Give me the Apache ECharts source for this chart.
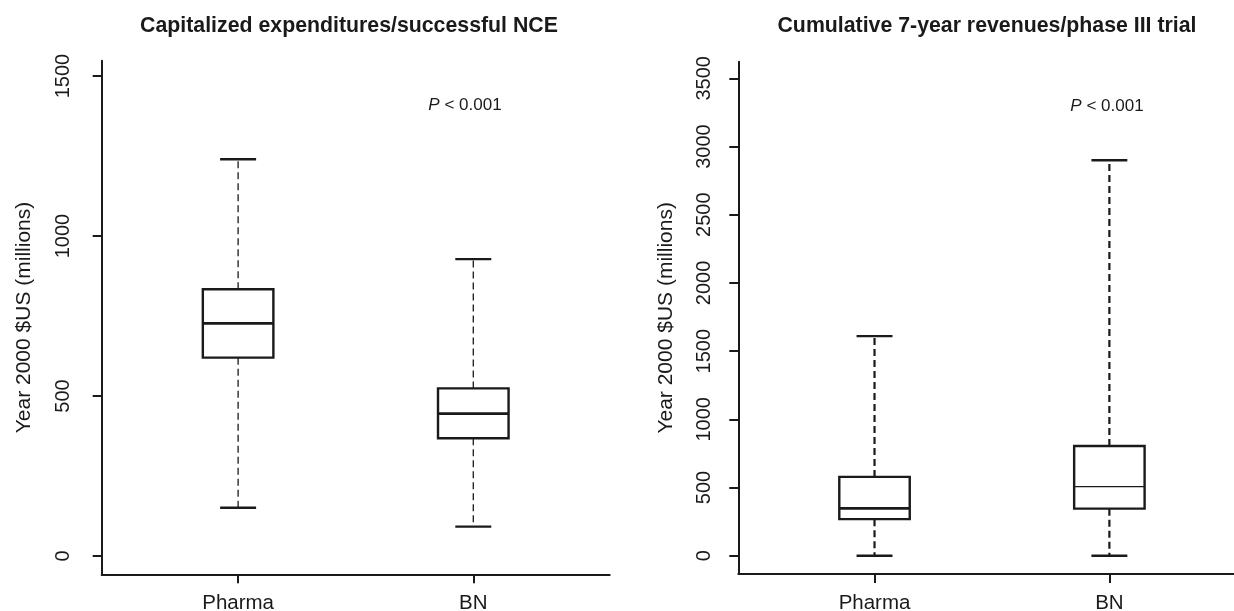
<!DOCTYPE html>
<html>
<head>
<meta charset="utf-8">
<title>Pharma vs BN</title>
<script src="https://cdn.jsdelivr.net/npm/echarts@6/dist/echarts.min.js"></script>
<style>
    html, body { margin: 0; padding: 0; background: #fff; }
    #chart { width: 1234px; height: 611px; }
</style>
</head>
<body>
<div id="chart"></div>
<script>
// box stats: [min, Q1, median, Q3, max]
const categories = ['Pharma', 'BN'];
const costPharma = [151, 620, 727, 834, 1240];
const costBN = [92, 368, 445, 524, 928];
const revenuePharma = [0, 268, 347, 578, 1610];
const revenueBN = [0, 345, 506, 804, 2900];
const costTicks = [0, 500, 1000, 1500];
const revenueTicks = [0, 500, 1000, 1500, 2000, 2500, 3000, 3500];
const categoryTicks = [1, 2];

const font = "'Liberation Sans', Arial, Helvetica, sans-serif";
const ink = '#1a1a1a';

// R-style box: dashed whiskers, staples, white box, median bar
function boxRenderer(whiskerWidth, medianWidths) {
    return function (params, api) {
        const x = api.value(0);
        const pMin = api.coord([x, api.value(1)]);
        const pQ1 = api.coord([x, api.value(2)]);
        const pMed = api.coord([x, api.value(3)]);
        const pQ3 = api.coord([x, api.value(4)]);
        const pMax = api.coord([x, api.value(5)]);
        const boxW = api.size([0.3, 0])[0];
        const capW = api.size([0.153, 0])[0];
        const cx = pMed[0];
        const dash = { stroke: ink, lineWidth: whiskerWidth, lineDash: [7, 4] };
        const solid = { stroke: ink, lineWidth: 2.4 };
        return {
            type: 'group',
            children: [
                { type: 'line', shape: { x1: cx, y1: pQ3[1], x2: cx, y2: pMax[1] }, style: dash },
                { type: 'line', shape: { x1: cx, y1: pQ1[1], x2: cx, y2: pMin[1] }, style: dash },
                { type: 'line', shape: { x1: cx - capW / 2, y1: pMax[1], x2: cx + capW / 2, y2: pMax[1] }, style: solid },
                { type: 'line', shape: { x1: cx - capW / 2, y1: pMin[1], x2: cx + capW / 2, y2: pMin[1] }, style: solid },
                {
                    type: 'rect',
                    shape: { x: cx - boxW / 2, y: pQ3[1], width: boxW, height: pQ1[1] - pQ3[1] },
                    style: { fill: '#fff', stroke: ink, lineWidth: 2.4 }
                },
                {
                    type: 'line',
                    shape: { x1: cx - boxW / 2, y1: pMed[1], x2: cx + boxW / 2, y2: pMed[1] },
                    style: { stroke: ink, lineWidth: medianWidths[params.dataIndex] }
                }
            ]
        };
    };
}

function xAxisFor(gridIndex) {
    return {
        gridIndex: gridIndex,
        type: 'value',
        min: 0.42,
        max: 2.58,
        splitLine: { show: false },
        axisLine: { show: true, onZero: false, lineStyle: { color: ink, width: 2 } },
        axisTick: { show: true, length: 9, customValues: categoryTicks, lineStyle: { color: ink, width: 2 } },
        axisLabel: {
            customValues: categoryTicks,
            formatter: function (v) { return categories[Math.round(v) - 1]; },
            margin: 19,
            fontSize: 20.5,
            color: ink,
            fontFamily: font
        }
    };
}

function yAxisFor(gridIndex, min, max, ticks, labelMargin, nameGap) {
    return {
        gridIndex: gridIndex,
        type: 'value',
        min: min,
        max: max,
        splitLine: { show: false },
        axisLine: { show: true, onZero: false, lineStyle: { color: ink, width: 2 } },
        axisTick: { show: true, length: 9, customValues: ticks, lineStyle: { color: ink, width: 2 } },
        axisLabel: {
            customValues: ticks,
            formatter: function (v) { return String(v); },
            rotate: 90,
            margin: labelMargin,
            fontSize: 20,
            color: ink,
            fontFamily: font
        },
        name: 'Year 2000 $US (millions)',
        nameLocation: 'middle',
        nameRotate: 90,
        nameGap: nameGap,
        nameTextStyle: { fontSize: 21, color: ink, fontFamily: font }
    };
}

function pText(x, y) {
    return {
        type: 'text',
        x: x,
        y: y,
        style: {
            text: '{i|P} < 0.001',
            align: 'center',
            verticalAlign: 'middle',
            fontSize: 17,
            fontFamily: font,
            fill: ink,
            rich: { i: { fontStyle: 'italic', fontSize: 17, fontFamily: font, fill: ink } }
        }
    };
}

const chart = echarts.init(document.getElementById('chart'));
chart.setOption({
    animation: false,
    backgroundColor: '#fff',
    title: [
        {
            text: 'Capitalized expenditures/successful NCE',
            left: 344,
            top: 11,
            textAlign: 'center',
            textStyle: { fontSize: 21.3, fontWeight: 'bold', color: ink, fontFamily: font }
        },
        {
            text: 'Cumulative 7-year revenues/phase III trial',
            left: 982,
            top: 11,
            textAlign: 'center',
            textStyle: { fontSize: 21.3, fontWeight: 'bold', color: ink, fontFamily: font }
        }
    ],
    grid: [
        { left: 101.7, top: 60.7, width: 508, height: 513.6, outerBoundsMode: 'none' },
        { left: 738.3, top: 61.7, width: 507.3, height: 512.3, outerBoundsMode: 'none' }
    ],
    xAxis: [xAxisFor(0), xAxisFor(1)],
    yAxis: [
        yAxisFor(0, -57, 1548, costTicks, 28, 67),
        yAxisFor(1, -134, 3622, revenueTicks, 24, 62)
    ],
    graphic: [pText(465, 105), pText(1107, 106)],
    series: [
        {
            type: 'custom',
            xAxisIndex: 0,
            yAxisIndex: 0,
            renderItem: boxRenderer(1.3, [2.6, 2.6]),
            encode: { x: 0, y: [1, 2, 3, 4, 5] },
            data: [[1].concat(costPharma), [2].concat(costBN)]
        },
        {
            type: 'custom',
            xAxisIndex: 1,
            yAxisIndex: 1,
            renderItem: boxRenderer(2.2, [2.6, 1.2]),
            encode: { x: 0, y: [1, 2, 3, 4, 5] },
            data: [[1].concat(revenuePharma), [2].concat(revenueBN)]
        }
    ]
});
</script>
</body>
</html>
